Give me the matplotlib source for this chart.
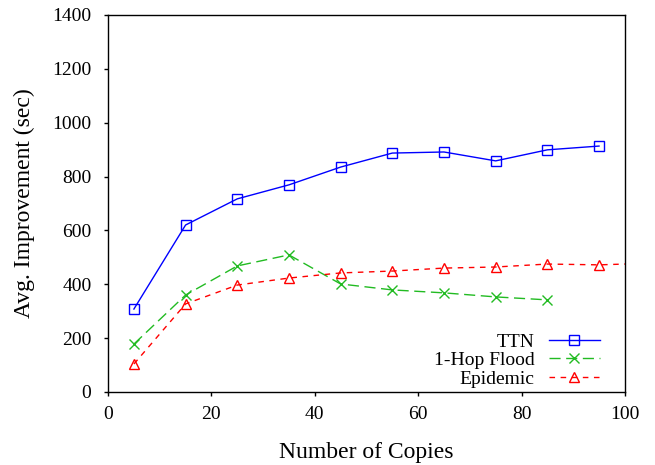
import matplotlib
matplotlib.use('Agg')
import matplotlib.pyplot as plt

plt.rcParams['font.family'] = ['Liberation Serif', 'DejaVu Serif']

copies = [5, 15, 25, 35, 45, 55, 65, 75, 85, 95]
ttn = [308, 620, 717, 769, 835, 887, 891, 858, 899, 913]
flood_x = [5, 15, 25, 35, 45, 55, 65, 75, 85]
flood = [178, 360, 468, 509, 401, 379, 368, 353, 342]
# epidemic line runs on past the right edge (clipped)
epi_x = [5, 15, 25, 35, 45, 55, 65, 75, 85, 95, 105]
epi = [104, 327, 397, 423, 442, 449, 460, 464, 475, 472, 478]

fig = plt.figure(figsize=(6.55, 4.65), dpi=100)
ax = fig.add_axes([0.165, 0.157, 0.789, 0.811])

ax.plot(copies, ttn, color='#0000ff', lw=1, marker='s', ms=7, mfc='none',
        mec='#0000ff', mew=1, label='TTN')
ax.plot(flood_x, flood, color='#22bb22', lw=1, dashes=(8, 4), marker='x', ms=7,
        mew=1, label='1-Hop Flood')
ax.plot(epi_x, epi, color='#ff0000', lw=1, dashes=(4, 4), marker='^', ms=6.5,
        mfc='none', mew=1, markevery=list(range(10)), label='Epidemic')

ax.set_xlim(0, 100)
ax.set_ylim(0, 1400)
ax.set_xticks(range(0, 101, 20))
ax.set_yticks(range(0, 1401, 200))
ax.tick_params(direction='out', length=3, width=1, labelsize=14)
ax.tick_params(axis='x', pad=7)
ax.tick_params(axis='y', pad=9)
for s in ax.spines.values():
    s.set_linewidth(1)

ax.set_xlabel('Number of Copies', fontsize=17)
ax.set_ylabel('Avg. Improvement (sec)', fontsize=17)
ax.xaxis.set_label_coords(0.5, -0.132)
ax.yaxis.set_label_coords(-0.142, 0.5)

ax.legend(loc='lower right', frameon=False, markerfirst=False, fontsize=14,
          handlelength=2.6, handletextpad=0.75, labelspacing=0.05,
          bbox_to_anchor=(0.985, -0.035))

fig.savefig('out.png', dpi=100)
